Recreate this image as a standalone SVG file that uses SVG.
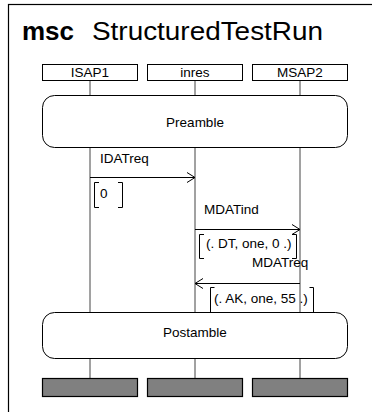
<svg xmlns="http://www.w3.org/2000/svg" width="372" height="412" viewBox="0 0 372 412">
  <defs>
    <style>
      .frame { fill: #fff; stroke: #000; stroke-width: 1.2; }
      .head { fill: #fff; stroke: #000; stroke-width: 1; }
      .stop { fill: #808080; stroke: #000; stroke-width: 1.2; }
      .ref { fill: #fff; stroke: #000; stroke-width: 1; }
      .life { stroke: #444; stroke-width: 1; fill: none; }
      .msg { stroke: #000; stroke-width: 1; fill: none; }
      .br { stroke: #000; stroke-width: 1; fill: none; }
      text { font-family: "Liberation Sans", Arial, sans-serif; fill: #000; }
      .lbl { font-size: 13.5px; }
      .ctr { text-anchor: middle; }
      .title { font-size: 26px; }
    </style>
    <marker id="open" markerWidth="10" markerHeight="12" refX="9" refY="6" orient="auto" markerUnits="userSpaceOnUse">
      <path d="M1,1 L9,6 L1,11" fill="none" stroke="#000" stroke-width="1"/>
    </marker>
  </defs>

  <!-- diagram frame -->
  <rect class="frame" x="8.5" y="4.5" width="380" height="420"/>
  <text class="title" x="22" y="40" font-weight="bold">msc</text>
  <text class="title" x="92" y="40" textLength="231" lengthAdjust="spacingAndGlyphs">StructuredTestRun</text>

  <!-- lifelines -->
  <g id="lifelines">
    <line class="life" x1="90" y1="81" x2="90" y2="378"/>
    <line class="life" x1="195" y1="81" x2="195" y2="378"/>
    <line class="life" x1="300" y1="81" x2="300" y2="378"/>
  </g>

  <!-- instance heads and stops -->
  <g id="ISAP1">
    <rect class="head" x="42.5" y="64.5" width="95" height="16"/>
    <text class="lbl ctr" x="90" y="76.5">ISAP1</text>
    <rect class="stop" x="42.5" y="378.5" width="95" height="18"/>
  </g>
  <g id="inres">
    <rect class="head" x="147.5" y="64.5" width="95" height="16"/>
    <text class="lbl ctr" x="195" y="76.5">inres</text>
    <rect class="stop" x="147.5" y="378.5" width="95" height="18"/>
  </g>
  <g id="MSAP2">
    <rect class="head" x="252.5" y="64.5" width="95" height="16"/>
    <text class="lbl ctr" x="300" y="76.5">MSAP2</text>
    <rect class="stop" x="252.5" y="378.5" width="95" height="18"/>
  </g>

  <!-- references -->
  <g id="Preamble">
    <rect class="ref" x="42.5" y="95.5" width="305" height="52" rx="12" ry="12"/>
    <text class="lbl ctr" x="195" y="127">Preamble</text>
  </g>
  <g id="Postamble">
    <rect class="ref" x="42.5" y="312.5" width="305" height="46" rx="12" ry="12"/>
    <text class="lbl ctr" x="195" y="337">Postamble</text>
  </g>

  <!-- messages -->
  <g id="connectors">
    <line class="msg" x1="90" y1="177.5" x2="195" y2="177.5" marker-end="url(#open)"/>
    <line class="msg" x1="195" y1="229.5" x2="300" y2="229.5" marker-end="url(#open)"/>
    <line class="msg" x1="300" y1="283.5" x2="195" y2="283.5" marker-end="url(#open)"/>
  </g>

  <!-- message labels and parameters -->
  <g id="IDATreq">
    <text class="lbl" x="100" y="163">IDATreq</text>
    <path class="br" d="M99,182.5 H94.5 V207.5 H99 M118,182.5 H122.5 V207.5 H118"/>
    <text class="lbl" x="100" y="198">0</text>
  </g>
  <g id="MDATind">
    <text class="lbl" x="204" y="214">MDATind</text>
    <path class="br" d="M204,234.5 H199.5 V258.5 H204 M292,234.5 H296.5 V258.5 H292"/>
    <text class="lbl" x="206" y="248">(. DT, one, 0 .)</text>
  </g>
  <g id="MDATreq">
    <text class="lbl" x="252" y="266.5">MDATreq</text>
    <path class="br" d="M214.5,287.5 H210.5 V312 M309.5,287.5 H313.5 V312"/>
    <text class="lbl" x="214" y="303">(. AK, one, 55 .)</text>
  </g>
</svg>
